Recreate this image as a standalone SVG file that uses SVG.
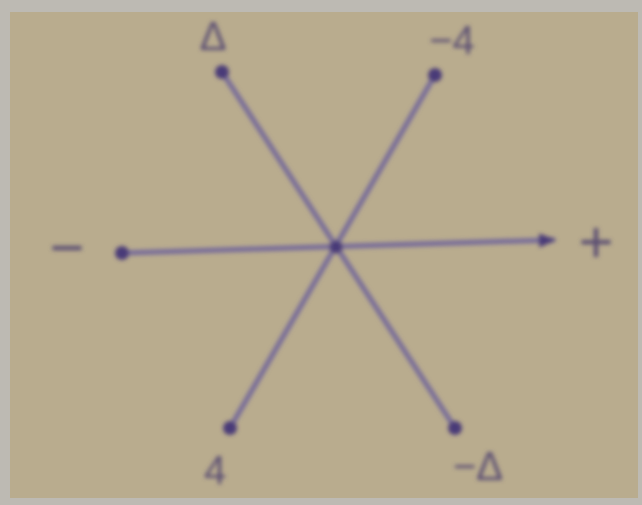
<svg xmlns="http://www.w3.org/2000/svg" width="642" height="505" viewBox="0 0 642 505">
<defs>
<style>
.ax{stroke:#74699a;stroke-width:5;fill:none;stroke-linecap:round}
.dot{fill:#4a3a78}
.lbl{font-family:"Liberation Sans",sans-serif;fill:#5a4e72;font-size:40px;text-anchor:middle}
.big{font-size:60px}
</style>
<filter id="soft" x="-10%" y="-10%" width="120%" height="120%"><feGaussianBlur stdDeviation="2"/></filter>
<marker id="arr" viewBox="0 0 10 10" refX="8" refY="5" markerWidth="3.5" markerHeight="3.5" orient="auto"><path d="M0,1 L10,5 L0,9 Z" fill="#4a3a78"/></marker>
</defs>
<rect width="642" height="505" fill="#bdbab3"/>
<rect x="10" y="12" width="628" height="486" fill="#b9ac8e"/>
<g filter="url(#soft)">
<g id="connectors">
<line class="ax" x1="122" y1="253" x2="553" y2="240" marker-end="url(#arr)"/>
<line class="ax" x1="222" y1="72" x2="455" y2="428"/>
<line class="ax" x1="435" y1="75" x2="230" y2="428"/>
</g>
<g id="center"><circle class="dot" cx="336" cy="247" r="6.5"/></g>
<g id="n-minus"><circle class="dot" cx="122" cy="253" r="7"/><text class="lbl big" x="67" y="268">−</text></g>
<g id="n-plus"><text class="lbl big" x="596" y="262">+</text></g>
<g id="n-delta"><circle class="dot" cx="222" cy="72" r="7"/><text class="lbl" x="213" y="50">Δ</text></g>
<g id="n-m4"><circle class="dot" cx="435" cy="75" r="7"/><text class="lbl" x="452" y="54">−4</text></g>
<g id="n-4"><circle class="dot" cx="230" cy="428" r="7"/><text class="lbl" x="215" y="484">4</text></g>
<g id="n-mdelta"><circle class="dot" cx="455" cy="428" r="7"/><text class="lbl" x="478" y="480">−Δ</text></g>
</g>
</svg>
